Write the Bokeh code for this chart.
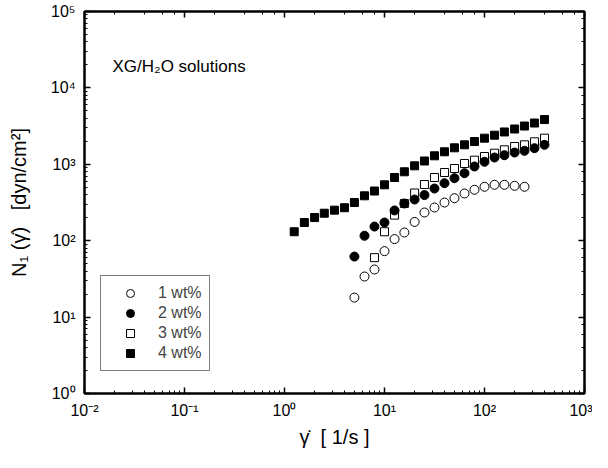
from bokeh.plotting import figure
from bokeh.models import LogAxis, Legend, LegendItem, Label, CustomJSTickFormatter, LogTicker
from bokeh.embed import file_html
from bokeh.resources import INLINE

# ---- data ----
shear_1 = [5.0, 6.31, 7.94, 10, 12.6, 15.8, 20, 25.1, 31.6, 39.8, 50.1, 63.1, 79.4, 100, 126, 158, 200, 251]
n1_1 = [18, 34, 42, 73, 105, 128, 176, 234, 272, 316, 360, 415, 464, 508, 539, 539, 523, 508]

shear_2 = [5.0, 6.31, 7.94, 10, 12.6, 15.8, 20, 25.1, 31.6, 39.8, 50.1, 63.1, 79.4, 100, 126, 158, 200, 251, 316, 398]
n1_2 = [62, 116, 153, 173, 249, 307, 346, 396, 482, 566, 658, 765, 936, 1079, 1227, 1315, 1426, 1502, 1625, 1800]

shear_3 = [7.94, 10, 12.6, 15.8, 20, 25.1, 31.6, 39.8, 50.1, 63.1, 79.4, 100, 126, 158, 200, 251, 316, 398]
n1_3 = [60, 131, 216, 307, 421, 544, 672, 781, 881, 1024, 1132, 1265, 1397, 1548, 1710, 1800, 1969, 2197]

shear_4 = [1.25, 1.58, 2.0, 2.5, 3.16, 3.98, 5.0, 6.31, 7.94, 10, 12.6, 15.8, 20, 25.1, 31.6, 39.8, 50.1, 63.1, 79.4, 100, 126, 158, 200, 251, 316, 398]
n1_4 = [131, 173, 201, 229, 251, 270, 316, 387, 447, 539, 672, 798, 955, 1105, 1292, 1458, 1644, 1800, 1987, 2197, 2404, 2650, 2897, 3170, 3470, 3850]

series_labels = ["1 wt%", "2 wt%", "3 wt%", "4 wt%"]
NB = "\u00a0"
x_label = "γ̇" + NB * 2 + "[" + NB + "1/s" + NB + "]"
y_label = "N₁" + NB + "(γ̇)" + NB * 3 + "[dyn/cm²]"
note = "XG/H₂O solutions"

FONT = "Liberation Sans"

p = figure(width=592, height=452, x_axis_type="log", y_axis_type="log",
           x_range=(1e-2, 1e3), y_range=(1, 1e5),
           output_backend="svg", toolbar_location=None,
           min_border_left=84, min_border_right=8, min_border_top=11, min_border_bottom=59)
p.grid.visible = False
p.outline_line_color = "black"
p.outline_line_width = 2
p.background_fill_color = "white"
p.border_fill_color = "white"

sup_code = """
const sup = {"-":"\u207b","0":"\u2070","1":"\u00b9","2":"\u00b2","3":"\u00b3","4":"\u2074","5":"\u2075","6":"\u2076","7":"\u2077","8":"\u2078","9":"\u2079"};
const e = Math.round(Math.log10(tick));
return "10" + String(e).split("").map(c => sup[c]).join("");
"""

def style_axis(ax, labels=True):
    ax.axis_line_color = "black"
    ax.axis_line_width = 2
    ax.major_tick_in = 6
    ax.major_tick_out = 0
    ax.minor_tick_in = 3
    ax.minor_tick_out = 0
    ax.major_tick_line_width = 1.5
    ax.minor_tick_line_width = 1
    ax.major_tick_line_color = "black"
    ax.minor_tick_line_color = "black"
    if labels:
        ax.formatter = CustomJSTickFormatter(code=sup_code)
        ax.major_label_text_font = FONT
        ax.major_label_text_font_size = "16px"
        ax.major_label_text_color = "black"
        ax.axis_label_text_font = FONT
        ax.axis_label_text_font_size = "20px"
        ax.axis_label_text_font_style = "normal"
        ax.axis_label_text_color = "black"
    else:
        ax.formatter = CustomJSTickFormatter(code="return ''")
        ax.major_label_text_font_size = "0px"
        ax.major_label_standoff = 0

xa = p.xaxis[0]
ya = p.yaxis[0]
style_axis(xa)
style_axis(ya)
xa.axis_label = x_label
ya.axis_label = y_label
xa.major_label_standoff = 8
xa.axis_label_standoff = 4
ya.major_label_standoff = 9
ya.axis_label_standoff = 18

top = LogAxis(ticker=LogTicker())
right = LogAxis(ticker=LogTicker())
style_axis(top, labels=False)
style_axis(right, labels=False)
p.add_layout(top, "above")
p.add_layout(right, "right")

r1 = p.scatter(shear_1, n1_1, marker="circle", size=9, fill_color="white", line_color="black", line_width=1)
r3 = p.scatter(shear_3, n1_3, marker="square", size=8, fill_color="white", line_color="black", line_width=1)
r2 = p.scatter(shear_2, n1_2, marker="circle", size=9, fill_color="black", line_color="black", line_width=1)
r4 = p.scatter(shear_4, n1_4, marker="square", size=8, fill_color="black", line_color="black", line_width=1)

legend = Legend(items=[LegendItem(label=series_labels[0], renderers=[r1]),
                       LegendItem(label=series_labels[1], renderers=[r2]),
                       LegendItem(label=series_labels[2], renderers=[r3]),
                       LegendItem(label=series_labels[3], renderers=[r4])],
                location=(16, 22), margin=0, padding=7, spacing=0,
                glyph_width=44, glyph_height=20, label_height=20, label_width=44,
                label_standoff=6, label_text_font=FONT, label_text_font_size="16px",
                border_line_color="black", border_line_width=1,
                background_fill_color="white", background_fill_alpha=1)
p.add_layout(legend)

p.add_layout(Label(x=28, y=327, x_units="screen", y_units="screen", text=note,
                   text_font=FONT, text_font_size="17px", text_baseline="middle",
                   text_color="black"))

open("out.html", "w").write(file_html(p, INLINE))
